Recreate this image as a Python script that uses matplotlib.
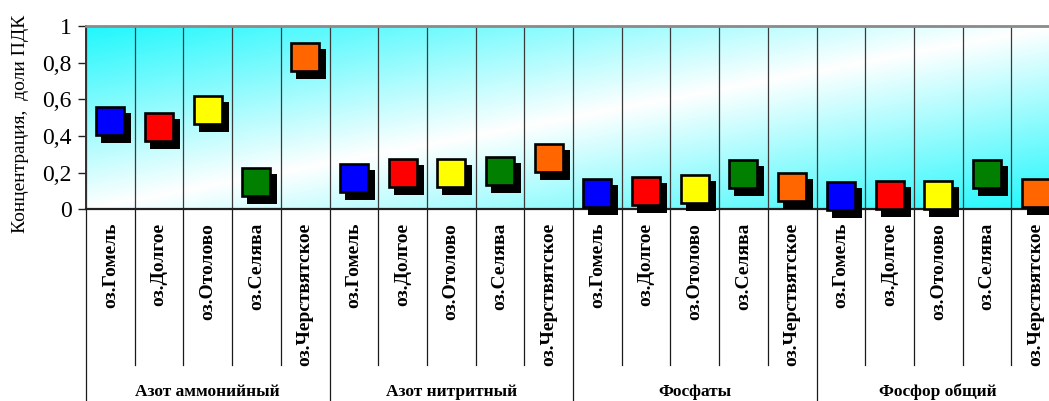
import numpy as np
import matplotlib
matplotlib.use("Agg")
import matplotlib.pyplot as plt
from matplotlib import transforms

# Lakes and indicator groups
lakes = ["оз.Гомель", "оз.Долгое", "оз.Отолово", "оз.Селява", "оз.Черствятское"]
groups = ["Азот аммонийный", "Азот нитритный", "Фосфаты", "Фосфор общий"]
y_ticks = [0, 0.2, 0.4, 0.6, 0.8, 1.0]
y_tick_labels = ["0", "0,2", "0,4", "0,6", "0,8", "1"]

# Concentration, fractions of the maximum permissible level (per lake, per group)
ammonium = [0.48, 0.45, 0.54, 0.15, 0.83]
nitrite = [0.17, 0.20, 0.20, 0.21, 0.28]
phosphate = [0.09, 0.10, 0.11, 0.19, 0.12]
phosphorus_total = [0.07, 0.08, 0.08, 0.19, 0.09]

lake_colors = ["#0000FF", "#FF0000", "#FFFF00", "#007F00", "#FF6600"]

series = [ammonium, nitrite, phosphate, phosphorus_total]
n_lakes = len(lakes)
n_cat = n_lakes * len(groups)

W, H = 1049, 401
fig = plt.figure(figsize=(W / 100, H / 100), dpi=100)
# plot area in pixels: left 86, right 1060 (runs past the right edge), top 26, bottom 209
ax_l, ax_r, ax_t, ax_b = 86, 1060, 26, 209.3
ax = fig.add_axes([ax_l / W, (H - ax_b) / H, (ax_r - ax_l) / W, (ax_b - ax_t) / H])
ax_h = ax_b - ax_t

# diagonal cyan-white-cyan gradient fill
nx, ny = 400, 200
u = np.linspace(0, 1, nx)[None, :]
v = np.linspace(0, 1, ny)[:, None]
s = (u + v) / 2.0
k = np.abs(1 - 2 * s)[..., None]
cyan = np.array([0.12, 0.97, 0.99])
white = np.array([1.0, 1.0, 1.0])
img = white + (cyan - white) * k
ax.imshow(img, extent=[0, 1, 0, 1], transform=ax.transAxes, aspect="auto",
          origin="upper", zorder=0, interpolation="bilinear")

ax.set_xlim(-0.5, n_cat - 0.5)
ax.set_ylim(0, 1)

# category separators inside the plot and below it
blend = transforms.blended_transform_factory(ax.transData, ax.transAxes)
cat_low = -(365 - ax_b) / ax_h
grp_low = -(H + 5 - ax_b) / ax_h
for i in range(n_cat + 1):
    b = i - 0.5
    ax.plot([b, b], [0, 1], transform=blend, color="#3a3a3a", lw=0.9, zorder=1)
    low = grp_low if i % n_lakes == 0 else cat_low
    ax.plot([b, b], [0, low], transform=blend, color="#1a1a1a", lw=0.9,
            zorder=1, clip_on=False)

# markers with a drop shadow
shadow_tr = transforms.offset_copy(ax.transData, fig=fig, x=6, y=-7, units="dots")
for g, vals in enumerate(series):
    for j, val in enumerate(vals):
        x = g * n_lakes + j
        ax.plot([x], [val], marker="s", ms=21, mew=0, color="black",
                transform=shadow_tr, zorder=4, clip_on=False, linestyle="none")
        ax.plot([x], [val], marker="s", ms=20.5, mew=1.9, mec="black",
                mfc=lake_colors[j], zorder=5, clip_on=False, linestyle="none")

# spines
ax.spines["right"].set_visible(False)
ax.spines["top"].set_color("#8a8a8a")
ax.spines["top"].set_linewidth(2.0)
ax.spines["bottom"].set_color("#202020")
ax.spines["bottom"].set_linewidth(1.6)
ax.spines["left"].set_color("#303030")
ax.spines["left"].set_linewidth(1.4)
for sp in ax.spines.values():
    sp.set_zorder(3)

ax.set_xticks([])
ax.set_yticks(y_ticks)
ax.set_yticklabels(y_tick_labels, fontfamily="Liberation Serif", fontsize=17)
ax.tick_params(axis="y", direction="out", length=5.5, width=1, pad=5, color="#202020")

# category labels
lab_top = -(223 - ax_b) / ax_h
for g in range(len(groups)):
    for j, name in enumerate(lakes):
        x = g * n_lakes + j
        ax.text(x, lab_top, name, transform=blend, rotation=90, ha="center",
                va="top", fontfamily="Liberation Serif", fontweight="bold",
                fontsize=14, clip_on=False)

# group labels
grp_y = -(396 - ax_b) / ax_h
for g, name in enumerate(groups):
    xc = g * n_lakes + (n_lakes - 1) / 2
    ax.text(xc, grp_y, name, transform=blend, ha="center", va="baseline",
            fontfamily="Liberation Serif", fontweight="bold", fontsize=12.5,
            clip_on=False)

fig.text(21 / W, (H - 124) / H, "Концентрация,  доли ПДК", rotation=90,
         ha="center", va="center", fontfamily="Liberation Serif", fontsize=14)

fig.savefig("out.png", dpi=100)
